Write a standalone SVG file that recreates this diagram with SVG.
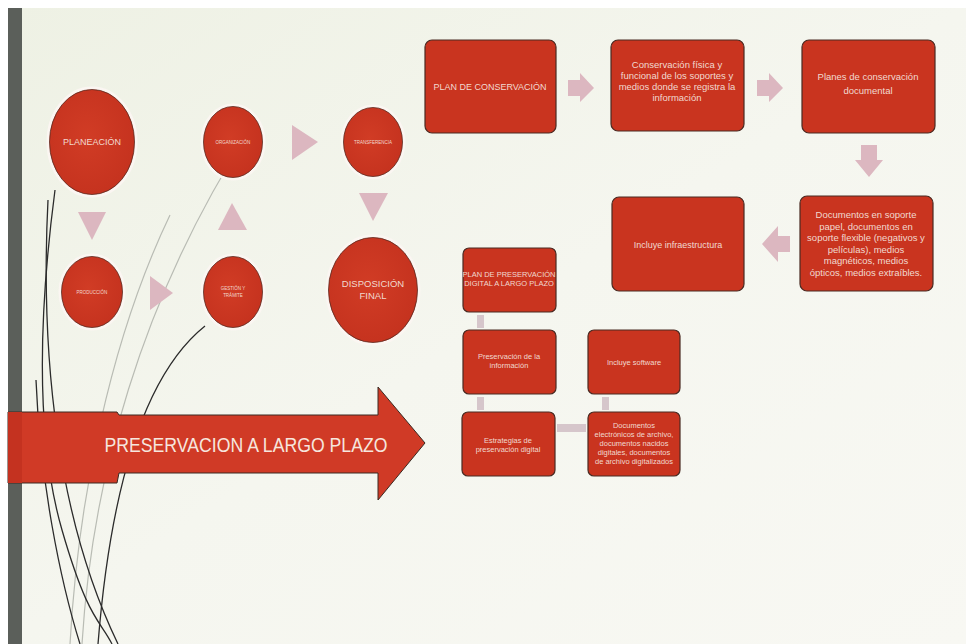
<svg xmlns="http://www.w3.org/2000/svg" width="966" height="644" viewBox="0 0 966 644">
<defs>
<linearGradient id="bg" x1="0" y1="0" x2="1" y2="1">
<stop offset="0" stop-color="#eef1e4"/>
<stop offset="0.5" stop-color="#f5f6ef"/>
<stop offset="1" stop-color="#f8f8f3"/>
</linearGradient>
<radialGradient id="red" cx="0.45" cy="0.45" r="0.7">
<stop offset="0" stop-color="#d13c25"/>
<stop offset="1" stop-color="#c2301d"/>
</radialGradient>
</defs>
<style>
.circ{fill:url(#red);stroke:#fbf6f2;stroke-width:3}
.ring{fill:none;stroke:#5a2a20;stroke-width:0.8}
.box{fill:#c9341f;stroke:#4a2a22;stroke-width:1.2}
.t{font-family:"Liberation Sans",Arial,sans-serif;fill:#f1d9cf;text-anchor:middle}
.tri{fill:#dcb7c0}
.con{fill:#d6c6cb}
.curve{fill:none;stroke:#2b2b2b;stroke-width:1.3}
.lcurve{fill:none;stroke:#b9bcb4;stroke-width:1.2}
</style>
<rect x="0" y="0" width="966" height="644" fill="#ffffff"/>
<rect x="8" y="8" width="958" height="636" fill="url(#bg)"/>
<rect x="8" y="8" width="14" height="636" fill="#5b5f5a"/>
<g id="curves">
<path class="lcurve" d="M70 644 C78 500 110 340 170 215"/>
<path class="lcurve" d="M82 644 C92 480 140 300 250 130"/>
<path class="curve" d="M55 190 C38 320 36 440 62 530 S100 620 112 644"/>
<path class="curve" d="M48 200 C40 360 58 520 118 644"/>
<path class="curve" d="M205 326 C150 370 112 470 98 644"/>
<path class="curve" d="M36 380 C40 480 60 580 80 644"/>
</g>
<g id="connectors">
<polygon class="tri" points="78,212 106,212 92,240"/>
<polygon class="tri" points="150,276 173,293 150,310"/>
<polygon class="tri" points="218,230 247,230 232,203"/>
<polygon class="tri" points="292,125 318,142 292,160"/>
<polygon class="tri" points="359,193 388,193 373,221"/>
<polygon class="tri" points="568,80 580,80 580,73 594,88 580,102 580,96 568,96"/>
<polygon class="tri" points="757,80 769,80 769,73 783,88 769,102 769,96 757,96"/>
<polygon class="tri" points="861,145 877,145 877,160 883,160 869,177 855,160 861,160"/>
<polygon class="tri" points="790,236 778,236 778,226 762,244 778,262 778,252 790,252"/>
<rect class="con" x="477" y="315" width="7" height="13"/>
<rect class="con" x="477" y="397" width="7" height="13"/>
<rect class="con" x="602" y="397" width="7" height="13"/>
<rect class="con" x="557" y="424" width="29" height="8"/>
</g>
<g id="planeacion">
<ellipse class="circ" cx="92" cy="142" rx="44" ry="54"/>
<ellipse class="ring" cx="92" cy="142" rx="42.5" ry="52.5"/>
<text class="t" x="92" y="145" font-size="9">PLANEACIÓN</text>
</g>
<g id="organizacion">
<ellipse class="circ" cx="233" cy="142" rx="31" ry="37"/>
<ellipse class="ring" cx="233" cy="142" rx="29.5" ry="35.5"/>
<text class="t" x="233" y="144" font-size="4.5">ORGANIZACIÓN</text>
</g>
<g id="transferencia">
<ellipse class="circ" cx="373" cy="142" rx="31" ry="36"/>
<ellipse class="ring" cx="373" cy="142" rx="29.5" ry="34.5"/>
<text class="t" x="373" y="144" font-size="4.5">TRANSFERENCIA</text>
</g>
<g id="produccion">
<ellipse class="circ" cx="92" cy="292" rx="32" ry="37"/>
<ellipse class="ring" cx="92" cy="292" rx="30.5" ry="35.5"/>
<text class="t" x="92" y="294" font-size="4.5">PRODUCCIÓN</text>
</g>
<g id="gestion">
<ellipse class="circ" cx="233" cy="292" rx="31" ry="37"/>
<ellipse class="ring" cx="233" cy="292" rx="29.5" ry="35.5"/>
<text class="t" x="233" y="290" font-size="4.5">GESTIÓN Y</text>
<text class="t" x="233" y="297" font-size="4.5">TRÁMITE</text>
</g>
<g id="disposicion">
<ellipse class="circ" cx="373" cy="290" rx="46" ry="54"/>
<ellipse class="ring" cx="373" cy="290" rx="44.5" ry="52.5"/>
<text class="t" x="373" y="287" font-size="9.5">DISPOSICIÓN</text>
<text class="t" x="373" y="299" font-size="9.5">FINAL</text>
</g>
<g id="plan-conservacion">
<rect class="box" x="425" y="40" width="131" height="93" rx="7"/>
<text class="t" x="490" y="90" font-size="9">PLAN DE CONSERVACIÓN</text>
</g>
<g id="conservacion-fisica">
<rect class="box" x="611" y="40" width="133" height="91" rx="7"/>
<text class="t" x="677" y="68" font-size="9.5">Conservación física y</text>
<text class="t" x="677" y="79" font-size="9.5">funcional de los soportes y</text>
<text class="t" x="677" y="90" font-size="9.5">medios donde se registra la</text>
<text class="t" x="677" y="101" font-size="9.5">información</text>
</g>
<g id="planes-conservacion">
<rect class="box" x="802" y="40" width="133" height="93" rx="7"/>
<text class="t" x="868" y="80" font-size="9.5">Planes de conservación</text>
<text class="t" x="868" y="94" font-size="9.5">documental</text>
</g>
<g id="documentos-soporte">
<rect class="box" x="800" y="196" width="133" height="95" rx="7"/>
<text class="t" x="866" y="218" font-size="9.5">Documentos en soporte</text>
<text class="t" x="866" y="229.5" font-size="9.5">papel, documentos en</text>
<text class="t" x="866" y="241" font-size="9.5">soporte flexible (negativos y</text>
<text class="t" x="866" y="252.5" font-size="9.5">películas), medios</text>
<text class="t" x="866" y="264" font-size="9.5">magnéticos, medios</text>
<text class="t" x="866" y="275.5" font-size="9.5">ópticos, medios extraíbles.</text>
</g>
<g id="infraestructura">
<rect class="box" x="612" y="197" width="132" height="94" rx="7"/>
<text class="t" x="678" y="248" font-size="9">Incluye infraestructura</text>
</g>
<g id="plan-preservacion">
<rect class="box" x="463" y="248" width="93" height="64" rx="6"/>
<text class="t" x="509" y="277" font-size="7.5">PLAN DE PRESERVACIÓN</text>
<text class="t" x="509" y="286" font-size="7.5">DIGITAL A LARGO PLAZO</text>
</g>
<g id="preservacion-informacion">
<rect class="box" x="463" y="330" width="93" height="64" rx="6"/>
<text class="t" x="509" y="359" font-size="7.5">Preservación de la</text>
<text class="t" x="509" y="368" font-size="7.5">información</text>
</g>
<g id="incluye-software">
<rect class="box" x="588" y="330" width="92" height="64" rx="6"/>
<text class="t" x="634" y="365" font-size="7.5">Incluye software</text>
</g>
<g id="estrategias">
<rect class="box" x="462" y="412" width="93" height="64" rx="6"/>
<text class="t" x="508" y="443" font-size="7.5">Estrategias de</text>
<text class="t" x="508" y="452" font-size="7.5">preservación digital</text>
</g>
<g id="documentos-electronicos">
<rect class="box" x="588" y="412" width="92" height="64" rx="6"/>
<text class="t" x="634" y="428" font-size="7.5">Documentos</text>
<text class="t" x="634" y="437" font-size="7.5">electrónicos de archivo,</text>
<text class="t" x="634" y="446" font-size="7.5">documentos nacidos</text>
<text class="t" x="634" y="455" font-size="7.5">digitales, documentos</text>
<text class="t" x="634" y="464" font-size="7.5">de archivo digitalizados</text>
</g>
<g id="preservacion-largo-plazo">
<path d="M8 412 L117 412 L119 415 L378 415 L378 387 L425 443 L378 500 L378 473 L119 473 L117 483 L8 483 Z" fill="#d03a26" stroke="#3a2a22" stroke-width="1"/>
<rect x="8" y="412" width="14" height="71" fill="#c43220"/>
<text class="t" x="246" y="452" font-size="20.5" textLength="283" lengthAdjust="spacingAndGlyphs" fill="#f6e6de" style="fill:#f6e6de">PRESERVACION A LARGO PLAZO</text>
</g>
</svg>
